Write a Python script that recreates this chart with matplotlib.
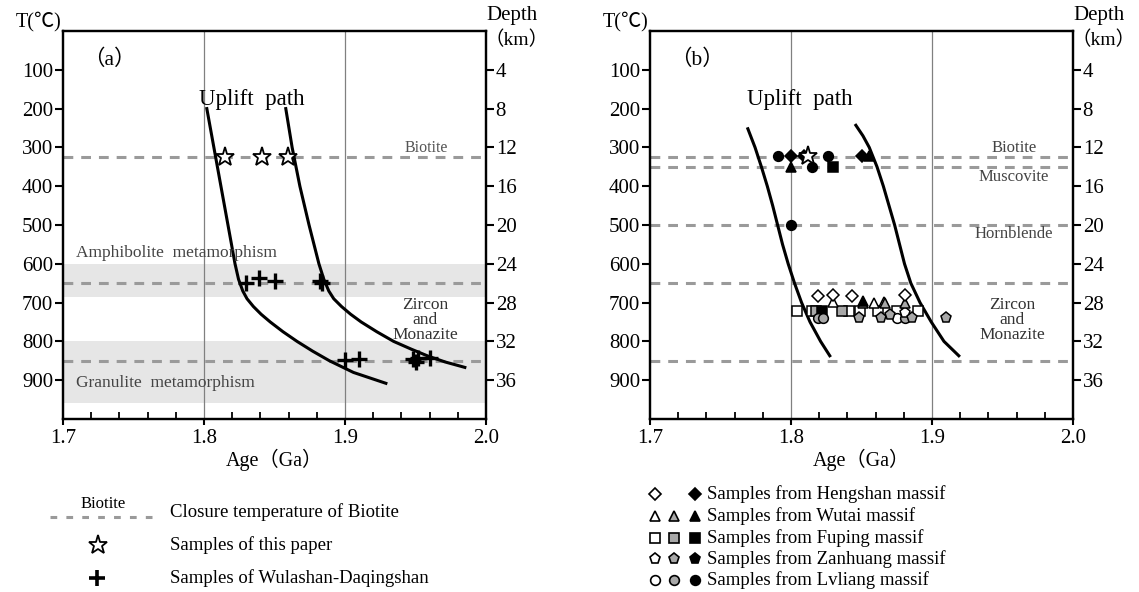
import matplotlib
matplotlib.use("Agg")
import matplotlib.pyplot as plt
from matplotlib.lines import Line2D

SERIF = ['Liberation Serif', 'Noto Sans CJK SC', 'DejaVu Serif']
plt.rcParams['font.family'] = SERIF

# ---------------- data ----------------
x_ticks = [1.7, 1.8, 1.9, 2.0]
x_tick_labels = ['1.7', '1.8', '1.9', '2.0']
t_ticks = [100, 200, 300, 400, 500, 600, 700, 800, 900]
depth_ticks = [4, 8, 12, 16, 20, 24, 28, 32, 36]

# panel (a)
closure_a = [325, 650, 850]
bands_lo = [600, 800]
bands_hi = [685, 960]
path_a1_age = [1.802, 1.807, 1.812, 1.817, 1.822, 1.8245, 1.8275, 1.8305, 1.835, 1.8405,
               1.847, 1.856, 1.866, 1.877, 1.889, 1.906, 1.929]
path_a1_T = [200, 300, 400, 500, 600, 640, 670, 690, 710, 730,
             750, 775, 800, 825, 850, 880, 908]
path_a2_age = [1.858, 1.8625, 1.868, 1.8745, 1.8815, 1.885, 1.8885, 1.892, 1.8975, 1.904,
               1.9115, 1.9225, 1.9345, 1.947, 1.959, 1.971, 1.985]
path_a2_T = [200, 300, 400, 500, 600, 640, 670, 690, 710, 730,
             750, 775, 800, 820, 838, 853, 867]
stars_a_age = [1.8146, 1.8414, 1.8596]
stars_a_T = [325, 325, 325]
cross_age = [1.830, 1.839, 1.850, 1.882, 1.884, 1.900, 1.910, 1.948, 1.950, 1.952, 1.960]
cross_T = [650, 637, 645, 645, 650, 848, 846, 845, 852, 842, 843]

# panel (b)
closure_b = [325, 350, 500, 650, 850]
path_b1_age = [1.7694, 1.7745, 1.779, 1.7832, 1.787, 1.7905, 1.794, 1.798, 1.8025, 1.8075,
               1.8135, 1.821, 1.8275]
path_b1_T = [252, 300, 350, 400, 450, 500, 550, 600, 650, 700, 750, 800, 837]
path_b2_age = [1.846, 1.851, 1.8555, 1.861, 1.8655, 1.8695, 1.8735, 1.877, 1.8805, 1.885,
               1.8915, 1.8995, 1.9085, 1.919]
path_b2_T = [243, 270, 300, 350, 400, 450, 500, 550, 600, 650, 700, 750, 800, 837]
star_b_age = [1.8124]
star_b_T = [323]

heng_open_age = [1.819, 1.830, 1.843, 1.881]
heng_open_T = [683, 681, 683, 681]
heng_fill_age = [1.800, 1.809, 1.850]
heng_fill_T = [323, 323, 322]

wutai_open_age = [1.830, 1.859, 1.866]
wutai_open_T = [698, 700, 698]
wutai_gray_age = [1.851, 1.867, 1.881]
wutai_gray_T = [700, 700, 700]
wutai_fill_age = [1.800, 1.855, 1.851]
wutai_fill_T = [350, 322, 697]

fuping_open_age = [1.804, 1.815, 1.841, 1.849, 1.862, 1.8755, 1.890]
fuping_open_T = [722, 722, 722, 722, 722, 722, 722]
fuping_gray_age = [1.818, 1.836]
fuping_gray_T = [722, 722]
fuping_fill_age = [1.822, 1.8295]
fuping_fill_T = [722, 350]

zan_open_age = [1.881]
zan_open_T = [728]
zan_gray_age = [1.848, 1.864, 1.870, 1.886, 1.910]
zan_gray_T = [739, 739, 733, 739, 739]

lv_open_age = [1.875]
lv_open_T = [739]
lv_gray_age = [1.819, 1.823, 1.881]
lv_gray_T = [739, 739, 739]
lv_fill_age = [1.791, 1.815, 1.826, 1.800]
lv_fill_T = [322, 350, 322, 500]

legend_a_labels = ['Closure temperature of Biotite', 'Samples of this paper',
                   'Samples of Wulashan-Daqingshan']
legend_b_labels = ['Samples from Hengshan massif', 'Samples from Wutai massif',
                   'Samples from Fuping massif', 'Samples from Zanhuang massif',
                   'Samples from Lvliang massif']

# ---------------- figure ----------------
W, H = 1139, 592
fig = plt.figure(figsize=(W / 100, H / 100), dpi=100)

DASH_COLOR = '#9a9a9a'
DASHES = (3.2, 2.6)
GRAY = '#a8a8a8'
TICK_FS = 15


def fx(px):
    return px / W


def fy(py):
    return 1 - py / H


def make_axes(left_px, label):
    ax = fig.add_axes([fx(left_px), fy(419), 423 / W, (419 - 31) / H])
    ax.set_xlim(1.7, 2.0)
    ax.set_ylim(1000, 0)
    for s in ax.spines.values():
        s.set_linewidth(1.6)
    ax.set_xticks(x_ticks)
    ax.set_xticklabels(x_tick_labels, fontsize=TICK_FS)
    ax.set_xticks([1.72, 1.74, 1.76, 1.78, 1.82, 1.84, 1.86, 1.88,
                   1.92, 1.94, 1.96, 1.98], minor=True)
    ax.tick_params(axis='x', which='major', direction='out', length=4, width=1.5, pad=3)
    ax.tick_params(axis='x', which='minor', direction='in', length=5, width=1.3)
    ax.set_yticks(t_ticks)
    ax.set_yticklabels([str(t) for t in t_ticks], fontsize=TICK_FS)
    ax.tick_params(axis='y', direction='out', length=6, width=1.5, pad=1)
    for xv in x_ticks[1:3]:
        ax.axvline(xv, color='#808080', lw=0.9, zorder=0.5)
    ax.set_xlabel('Age\uff08Ga\uff09', fontsize=14.5, labelpad=1)
    ax2 = ax.twinx()
    ax2.set_ylim(40, 0)
    ax2.set_yticks(depth_ticks)
    ax2.set_yticklabels([str(d) for d in depth_ticks], fontsize=TICK_FS)
    ax2.tick_params(axis='y', direction='out', length=6, width=1.5, pad=1)
    for s in ax2.spines.values():
        s.set_linewidth(1.6)
    ax.text(-0.003, 1.0, 'T(\u2103)', transform=ax.transAxes, ha='right', va='bottom',
            fontsize=14.5)
    ax.text(1.0, 1.04, 'Depth', transform=ax.transAxes, ha='left', va='center', fontsize=15)
    ax.text(0.997, 0.978, '\uff08km\uff09', transform=ax.transAxes, ha='left', va='center',
            fontsize=14)
    ax.text(1.733, 75, label, fontsize=15.5, ha='center', va='center')
    return ax


def hline(ax, y):
    ax.plot([1.7, 2.0], [y, y], color=DASH_COLOR, lw=2.2, dashes=DASHES, zorder=1)


# ---------- panel (a) ----------
axa = make_axes(63, '\uff08a\uff09')
for lo, hi in zip(bands_lo, bands_hi):
    axa.axhspan(lo, hi, color='#e6e6e6', zorder=0, lw=0)
for y in closure_a:
    hline(axa, y)
axa.plot(path_a1_age, path_a1_T, color='black', lw=2.2, zorder=3, solid_joinstyle='round')
axa.plot(path_a2_age, path_a2_T, color='black', lw=2.2, zorder=3, solid_joinstyle='round')
axa.plot(stars_a_age, stars_a_T, ls='none', marker='*', ms=14, mfc='white', mec='black',
         mew=1.3, zorder=4)
axa.plot(cross_age, cross_T, ls='none', marker='+', ms=11, mec='black', mew=2.4, zorder=4)
axa.text(1.834, 177, 'Uplift  path', fontsize=16.5, ha='center', va='center')
axa.text(1.958, 302, 'Biotite', fontsize=11.5, ha='center', va='center', color='#555555')
axa.text(1.709, 572, 'Amphibolite  metamorphism', fontsize=12.5, ha='left', va='center',
         color='#444444')
axa.text(1.709, 906, 'Granulite  metamorphism', fontsize=12.5, ha='left', va='center',
         color='#444444')
axa.text(1.957, 745, 'Zircon\nand\nMonazite', fontsize=12.5, ha='center', va='center',
         color='#333333', linespacing=0.92)

# ---------- panel (b) ----------
axb = make_axes(650, '\uff08b\uff09')
for y in closure_b:
    hline(axb, y)
axb.plot(path_b1_age, path_b1_T, color='black', lw=2.2, zorder=3, solid_joinstyle='round')
axb.plot(path_b2_age, path_b2_T, color='black', lw=2.2, zorder=3, solid_joinstyle='round')
axb.text(1.8066, 177, 'Uplift  path', fontsize=16.5, ha='center', va='center')
axb.text(1.958, 302, 'Biotite', fontsize=12, ha='center', va='center', color='#444444')
axb.text(1.958, 377, 'Muscovite', fontsize=12, ha='center', va='center', color='#444444')
axb.text(1.958, 522, 'Hornblende', fontsize=12, ha='center', va='center', color='#444444')
axb.text(1.957, 745, 'Zircon\nand\nMonazite', fontsize=12.5, ha='center', va='center',
         color='#333333', linespacing=0.92)


def pts(ax, xs, ys, marker, face, ms=7):
    ax.plot(xs, ys, ls='none', marker=marker, ms=ms, mfc=face, mec='black', mew=1.1, zorder=4)


pts(axb, fuping_open_age, fuping_open_T, 's', 'white', 7.5)
pts(axb, fuping_gray_age, fuping_gray_T, 's', GRAY, 7.5)
pts(axb, fuping_fill_age, fuping_fill_T, 's', 'black', 7)
pts(axb, lv_open_age, lv_open_T, 'o', 'white')
pts(axb, lv_gray_age, lv_gray_T, 'o', GRAY)
pts(axb, lv_fill_age, lv_fill_T, 'o', 'black')
pts(axb, zan_open_age, zan_open_T, 'p', 'white', 8)
pts(axb, zan_gray_age, zan_gray_T, 'p', GRAY, 8)
pts(axb, wutai_open_age, wutai_open_T, '^', 'white')
pts(axb, wutai_gray_age, wutai_gray_T, '^', GRAY)
pts(axb, wutai_fill_age, wutai_fill_T, '^', 'black')
pts(axb, heng_open_age, heng_open_T, 'D', 'white', 6)
pts(axb, heng_fill_age, heng_fill_T, 'D', 'black', 6)
axb.plot(star_b_age, star_b_T, ls='none', marker='*', ms=14, mfc='white', mec='black',
         mew=1.3, zorder=5)

# ---------- legend (a) ----------
lega_y = [512, 545, 578]
fig.add_artist(Line2D([fx(50), fx(152)], [fy(517), fy(517)], color=DASH_COLOR, lw=2.2,
                      dashes=(2.2, 3.0)))
fig.text(fx(103), fy(504), 'Biotite', fontsize=12, ha='center', va='center')
fig.add_artist(Line2D([fx(98)], [fy(lega_y[1])], ls='none', marker='*', ms=14, mfc='white',
                      mec='black', mew=1.3))
fig.add_artist(Line2D([fx(97)], [fy(lega_y[2])], ls='none', marker='+', ms=11, mec='black',
                      mew=2.6))
for lab, y in zip(legend_a_labels, lega_y):
    fig.text(fx(170), fy(y), lab, fontsize=13.5, ha='left', va='center')

# ---------- legend (b) ----------
legb_y = [494, 516, 538, 559, 580]
legb_markers = ['D', '^', 's', 'p', 'o']
legb_x = [655, 674, 695]
legb_faces = [['white', None, 'black'], ['white', GRAY, 'black'], ['white', GRAY, 'black'],
              ['white', GRAY, 'black'], ['white', GRAY, 'black']]
for mk, faces, y, lab in zip(legb_markers, legb_faces, legb_y, legend_b_labels):
    for xx, fc in zip(legb_x, faces):
        if fc is None:
            continue
        ms = 6 if mk == 'D' else (8 if mk == 'p' else 7)
        fig.add_artist(Line2D([fx(xx)], [fy(y)], ls='none', marker=mk, ms=ms, mfc=fc,
                              mec='black', mew=1.2))
    fig.text(fx(707), fy(y), lab, fontsize=13.5, ha='left', va='center')

fig.savefig('out.png', dpi=100)
